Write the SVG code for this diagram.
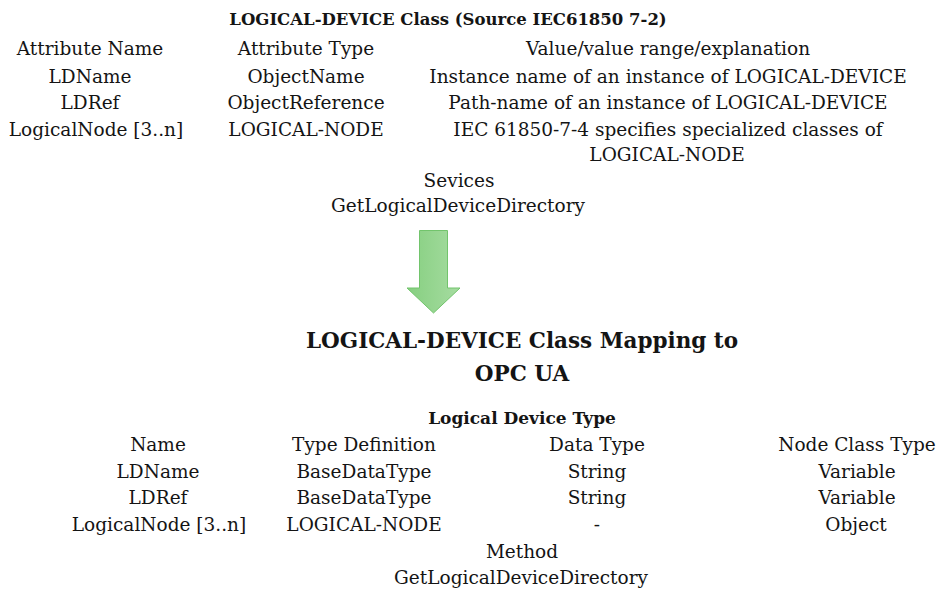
<svg xmlns="http://www.w3.org/2000/svg" width="940" height="590" viewBox="0 0 940 590">
  <style>
    text { font-family: "DejaVu Serif", "Liberation Serif", serif; fill: #141414; text-anchor: middle; }
    .t { font-size: 18.5px; }
    .h { font-size: 17px; font-weight: bold; }
    .h1 { font-size: 16.5px; font-weight: bold; }
    .big { font-size: 21.5px; font-weight: bold; }
  </style>
  <defs>
    <linearGradient id="arrowFill" x1="0" y1="0" x2="1" y2="0">
      <stop offset="0" stop-color="#86cf80"/>
      <stop offset="1" stop-color="#a6dca1"/>
    </linearGradient>
  </defs>
  <rect width="940" height="590" fill="#ffffff"/>

  <!-- IEC 61850 class table -->
  <g id="iec-class">
    <text class="h1" x="448" y="25">LOGICAL-DEVICE Class (Source IEC61850 7-2)</text>
    <text class="t" x="90" y="55">Attribute Name</text>
    <text class="t" x="306" y="55">Attribute Type</text>
    <text class="t" x="668" y="55">Value/value range/explanation</text>
    <text class="t" x="90" y="83">LDName</text>
    <text class="t" x="306" y="83">ObjectName</text>
    <text class="t" x="668" y="83">Instance name of an instance of LOGICAL-DEVICE</text>
    <text class="t" x="90" y="109">LDRef</text>
    <text class="t" x="306" y="109">ObjectReference</text>
    <text class="t" x="668" y="109">Path-name of an instance of LOGICAL-DEVICE</text>
    <text class="t" x="96" y="136">LogicalNode [3..n]</text>
    <text class="t" x="306" y="136">LOGICAL-NODE</text>
    <text class="t" x="668" y="136">IEC 61850-7-4 specifies specialized classes of</text>
    <text class="t" x="667" y="161">LOGICAL-NODE</text>
    <text class="t" x="459" y="187">Sevices</text>
    <text class="t" x="458" y="212">GetLogicalDeviceDirectory</text>
  </g>

  <!-- mapping arrow -->
  <g id="connectors">
    <path d="M419.5,230.5 H447.5 V288 H460 L433.5,313 L407,288 H419.5 Z" fill="url(#arrowFill)" stroke="#72c46c" stroke-width="1"/>
  </g>

  <!-- OPC UA mapping -->
  <g id="opcua-title">
    <text class="big" x="522" y="348">LOGICAL-DEVICE Class Mapping to</text>
    <text class="big" x="522" y="381">OPC UA</text>
  </g>

  <g id="opcua-type">
    <text class="h" x="522" y="424">Logical Device Type</text>
    <text class="t" x="158" y="451">Name</text>
    <text class="t" x="364" y="451">Type Definition</text>
    <text class="t" x="597" y="451">Data Type</text>
    <text class="t" x="857" y="451">Node Class Type</text>
    <text class="t" x="158" y="478">LDName</text>
    <text class="t" x="364" y="478">BaseDataType</text>
    <text class="t" x="597" y="478">String</text>
    <text class="t" x="857" y="478">Variable</text>
    <text class="t" x="158" y="504">LDRef</text>
    <text class="t" x="364" y="504">BaseDataType</text>
    <text class="t" x="597" y="504">String</text>
    <text class="t" x="857" y="504">Variable</text>
    <text class="t" x="159" y="531">LogicalNode [3..n]</text>
    <text class="t" x="364" y="531">LOGICAL-NODE</text>
    <text class="t" x="597" y="531">-</text>
    <text class="t" x="856" y="531">Object</text>
    <text class="t" x="522" y="558">Method</text>
    <text class="t" x="521" y="584">GetLogicalDeviceDirectory</text>
  </g>
</svg>
